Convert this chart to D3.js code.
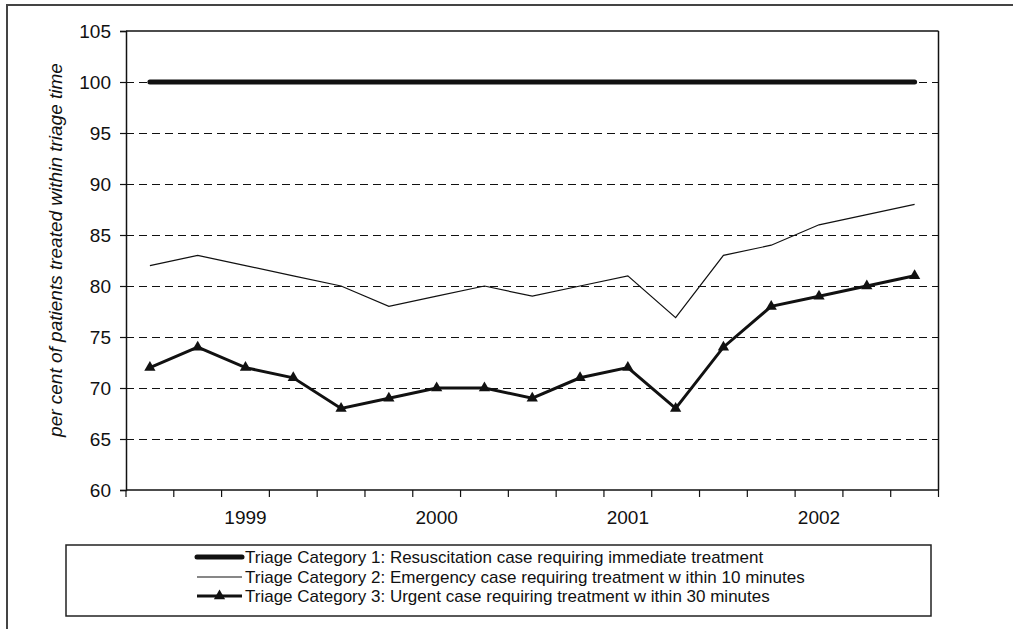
<!DOCTYPE html>
<html>
<head>
<meta charset="utf-8">
<script src="https://cdn.jsdelivr.net/npm/d3@7"></script>
<style>
  html, body { margin: 0; padding: 0; background: #fff; }
  svg { display: block; font-family: "Liberation Sans", Arial, sans-serif; }
</style>
</head>
<body>
<svg id="chart" width="1013" height="629"></svg>
<script>
// ---- data ----
const categories = ["Q1","Q2","Q3","Q4","Q5","Q6","Q7","Q8","Q9","Q10","Q11","Q12","Q13","Q14","Q15","Q16","Q17"];
const tickLabels = ["", "", "1999", "", "", "", "2000", "", "", "", "2001", "", "", "", "2002", "", ""];
const cat1 = [100,100,100,100,100,100,100,100,100,100,100,100,100,100,100,100,100];
const cat2 = [82,83,82,81,80,78,79,80,79,80,81,76.9,83,84,86,87,88];
const cat3 = [72,74,72,71,68,69,70,70,69,71,72,68,74,78,79,80,81];
const yTicks = [60,65,70,75,80,85,90,95,100,105];
const seriesNames = [
  "Triage Category 1: Resuscitation case requiring immediate treatment",
  "Triage Category 2: Emergency case requiring treatment w ithin 10 minutes",
  "Triage Category 3: Urgent case requiring treatment w ithin 30 minutes"
];
const yTitle = "per cent of patients treated within triage time";

// ---- layout ----
const svg = d3.select("#chart");
const L = 126, R = 938.5, T = 31, B = 490;

// outer border
svg.append("rect").attr("x", 7).attr("y", 5).attr("width", 1100).attr("height", 700)
  .attr("fill", "none").attr("stroke", "#444").attr("stroke-width", 2);

const x = d3.scaleBand().domain(categories).range([L, R]);
const y = d3.scaleLinear().domain([60, 105]).range([B, T]);
const cx = (d, i) => x(categories[i]) + x.bandwidth() / 2;
const snap = v => Math.round(v) + 0.5;

// gridlines (dashed)
svg.append("g").selectAll("line").data(yTicks.filter(v => v > 60 && v < 105)).join("line")
  .attr("x1", L).attr("x2", R).attr("y1", d => snap(y(d))).attr("y2", d => snap(y(d)))
  .attr("stroke", "#111").attr("stroke-width", 1.2).attr("stroke-dasharray", "8,5")
  .attr("shape-rendering", "crispEdges");

// plot area top & right border
svg.append("line").attr("x1", L).attr("x2", R).attr("y1", T).attr("y2", T).attr("stroke", "#111").attr("stroke-width", 1.5);
svg.append("line").attr("x1", R).attr("x2", R).attr("y1", T).attr("y2", B).attr("stroke", "#111").attr("stroke-width", 1.5);

// y axis
const yAxis = d3.axisLeft(y).tickValues(yTicks).tickSize(6).tickPadding(9);
const gy = svg.append("g").attr("transform", `translate(${L},0)`).call(yAxis);
gy.select(".domain").attr("stroke", "#111").attr("stroke-width", 1.5);
gy.selectAll(".tick line").attr("stroke", "#111").attr("stroke-width", 1.2);
gy.selectAll("text").attr("font-size", 19).attr("fill", "#111").attr("font-family", "Liberation Sans, Arial, sans-serif");

// x axis: ticks at band boundaries
const boundaries = d3.range(categories.length + 1).map(i => L + i * x.bandwidth());
const gx = svg.append("g");
gx.append("line").attr("x1", L).attr("x2", R).attr("y1", B).attr("y2", B).attr("stroke", "#111").attr("stroke-width", 1.5);
gx.selectAll("line.t").data(boundaries).join("line").attr("class", "t")
  .attr("x1", d => d).attr("x2", d => d).attr("y1", B).attr("y2", B + 7)
  .attr("stroke", "#111").attr("stroke-width", 1.2);
gx.selectAll("text").data(tickLabels).join("text")
  .attr("x", (d, i) => cx(d, i)).attr("y", 524)
  .attr("text-anchor", "middle").attr("font-size", 19).attr("fill", "#111")
  .text(d => d);

// y title
svg.append("text").attr("transform", `translate(62,250) rotate(-90)`)
  .attr("text-anchor", "middle").attr("font-size", 19).attr("font-style", "italic").attr("fill", "#111")
  .text(yTitle);

// series
const line = d3.line().x((d, i) => cx(d, i)).y(d => y(d));
svg.append("path").datum(cat1).attr("d", line).attr("fill", "none")
  .attr("stroke", "#111").attr("stroke-width", 5).attr("stroke-linecap", "round");
svg.append("path").datum(cat2).attr("d", line).attr("fill", "none")
  .attr("stroke", "#111").attr("stroke-width", 1.2);
svg.append("path").datum(cat3).attr("d", line).attr("fill", "none")
  .attr("stroke", "#111").attr("stroke-width", 3);
const tri = d3.symbol().type(d3.symbolTriangle).size(55);
svg.append("g").selectAll("path").data(cat3).join("path")
  .attr("transform", (d, i) => `translate(${cx(d, i)},${y(d)})`)
  .attr("d", tri).attr("fill", "#111");

// legend
svg.append("rect").attr("x", 66).attr("y", 545).attr("width", 865).attr("height", 71)
  .attr("fill", "#fff").attr("stroke", "#222").attr("stroke-width", 1.5);
const lx1 = 197, lx2 = 242, rowY = [557, 577, 596];
const lg = svg.append("g");
lg.append("line").attr("x1", lx1).attr("x2", lx2).attr("y1", rowY[0]).attr("y2", rowY[0])
  .attr("stroke", "#111").attr("stroke-width", 5).attr("stroke-linecap", "round");
lg.append("line").attr("x1", lx1).attr("x2", lx2).attr("y1", rowY[1]).attr("y2", rowY[1])
  .attr("stroke", "#111").attr("stroke-width", 1.2);
lg.append("line").attr("x1", lx1).attr("x2", lx2).attr("y1", rowY[2]).attr("y2", rowY[2])
  .attr("stroke", "#111").attr("stroke-width", 3);
lg.append("path").attr("transform", `translate(${(lx1 + lx2) / 2},${rowY[2]})`).attr("d", tri).attr("fill", "#111");
lg.selectAll("text").data(seriesNames).join("text")
  .attr("x", 245).attr("y", (d, i) => rowY[i] + 6)
  .attr("font-size", 17).attr("fill", "#111").text(d => d);
</script>
</body>
</html>
